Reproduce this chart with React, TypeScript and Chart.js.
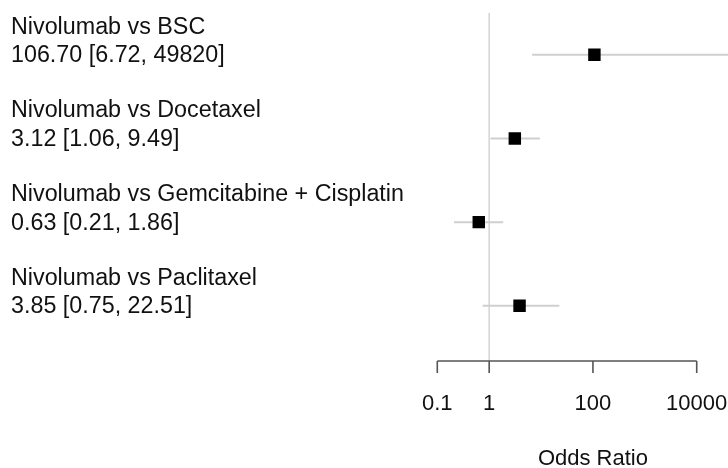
import React, { useEffect, useRef } from "react";
import { Chart, registerables } from "chart.js";

Chart.register(...registerables);

// Forest plot data: odds ratios with 95% confidence intervals
const comparisons = [
  "Nivolumab vs BSC",
  "Nivolumab vs Docetaxel",
  "Nivolumab vs Gemcitabine + Cisplatin",
  "Nivolumab vs Paclitaxel",
];
const oddsRatios = [106.7, 3.12, 0.63, 3.85];
const lowerCI = [6.72, 1.06, 0.21, 0.75];
const upperCI = [49820, 9.49, 1.86, 22.51];
const tickValues = [0.1, 1, 100, 10000];
const tickLabels = ["0.1", "1", "100", "10000"];
const axisTitle = "Odds Ratio";
const referenceValue = 1;

const W = 728;
const H = 468;
const FONT = '"Liberation Sans", Arial, Helvetica, sans-serif';

const fmt = (v: number) => v.toFixed(2);
const fmtUpper = (v: number) => (v >= 1000 ? String(Math.round(v)) : v.toFixed(2));

export default function App() {
  const canvasRef = useRef<HTMLCanvasElement | null>(null);

  useEffect(() => {
    const canvas = canvasRef.current;
    if (!canvas) return;

    const ciDatasets = comparisons.map((_, i) => ({
      type: "line" as const,
      data: [
        { x: lowerCI[i], y: i },
        { x: upperCI[i], y: i },
      ],
      borderColor: "#cfcfcf",
      borderWidth: 2,
      pointRadius: 0,
      fill: false,
    }));

    const forestPlugin = {
      id: "forestDecor",
      beforeDatasetsDraw(chart: any) {
        const { ctx, chartArea, scales } = chart;
        const x = scales.x.getPixelForValue(referenceValue);
        ctx.save();
        ctx.strokeStyle = "#d4d4d4";
        ctx.lineWidth = 1.5;
        ctx.beginPath();
        ctx.moveTo(x, chartArea.top);
        ctx.lineTo(x, chartArea.bottom);
        ctx.stroke();
        ctx.restore();
      },
      afterDraw(chart: any) {
        const { ctx, chartArea, scales } = chart;
        const xs = scales.x;
        const ys = scales.y;
        ctx.save();

        // bottom axis spanning the labelled ticks only
        const axisY = chartArea.bottom;
        const x0 = xs.getPixelForValue(tickValues[0]);
        const x1 = xs.getPixelForValue(tickValues[tickValues.length - 1]);
        ctx.strokeStyle = "#555555";
        ctx.lineWidth = 1.6;
        ctx.beginPath();
        ctx.moveTo(x0, axisY);
        ctx.lineTo(x1, axisY);
        tickValues.forEach((v) => {
          const px = xs.getPixelForValue(v);
          ctx.moveTo(px, axisY);
          ctx.lineTo(px, axisY + 12);
        });
        ctx.stroke();

        ctx.fillStyle = "#111111";
        ctx.font = `22px ${FONT}`;
        ctx.textAlign = "center";
        ctx.textBaseline = "middle";
        tickValues.forEach((v, i) => {
          ctx.fillText(tickLabels[i], xs.getPixelForValue(v), axisY + 43);
        });
        ctx.fillText(axisTitle, xs.getPixelForValue(100), axisY + 98);

        // row labels
        ctx.textAlign = "left";
        ctx.font = `23.3px ${FONT}`;
        comparisons.forEach((name, i) => {
          const py = ys.getPixelForValue(i);
          ctx.fillText(name, 11, py - 27.5);
          ctx.fillText(
            `${fmt(oddsRatios[i])} [${fmt(lowerCI[i])}, ${fmtUpper(upperCI[i])}]`,
            11,
            py + 1
          );
        });
        ctx.restore();
      },
    };

    const chart = new Chart(canvas, {
      type: "scatter",
      data: {
        datasets: [
          {
            type: "scatter" as const,
            data: oddsRatios.map((v, i) => ({ x: v, y: i })),
            backgroundColor: "#000000",
            borderWidth: 0,
            pointStyle: "rect",
            pointRadius: 8.8,
          },
          ...ciDatasets,
        ] as any,
      },
      options: {
        responsive: false,
        animation: false,
        events: [],
        layout: {
          autoPadding: false,
          padding: { left: 437.3, right: 0, top: 13, bottom: H - 361 },
        },
        plugins: { legend: { display: false }, tooltip: { enabled: false } },
        scales: {
          x: {
            type: "logarithmic",
            display: false,
            min: 0.1,
            max: 40100,
            bounds: "data",
          },
          y: {
            type: "linear",
            display: false,
            reverse: true,
            min: -0.5,
            max: 3.66,
          },
        },
      },
      plugins: [forestPlugin],
    });

    return () => chart.destroy();
  }, []);

  return (
    <div style={{ position: "fixed", left: 0, top: 0, width: W, height: H, background: "#fff" }}>
      <canvas ref={canvasRef} width={W} height={H} style={{ display: "block" }} />
    </div>
  );
}
